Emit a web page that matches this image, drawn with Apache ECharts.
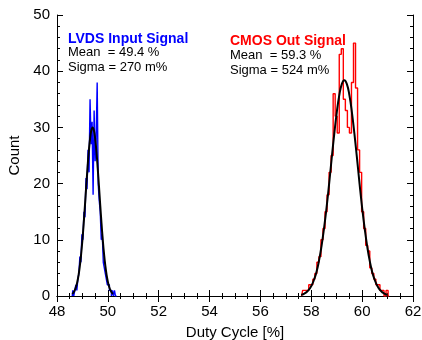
<!DOCTYPE html>
<html>
<head>
<meta charset="utf-8">
<script src="https://cdn.jsdelivr.net/npm/echarts@6/dist/echarts.min.js"></script>
<style>html,body{margin:0;padding:0;background:#fff}#c{width:422px;height:340px}</style>
</head>
<body>
<div id="c"></div>
<script>
// Blue (LVDS input) histogram: bin centres and counts
var blueBins = [48.60,48.64,48.68,48.72,48.76,48.80,48.84,48.88,48.92,48.96,49.00,49.04,49.08,49.12,49.16,49.20,49.24,49.28,49.32,49.36,49.40,49.44,49.48,49.52,49.56,49.60,49.64,49.68,49.72,49.76,49.80,49.84,49.88,49.92,49.96,50.00,50.04,50.08,50.12,50.16,50.20,50.24,50.28,50.32,50.36];
var blueCounts = [0,1,0,1,2,1,3,4,7,6,11,10,15,14,21,19,26,22,35,27,31,18,33,24,28,38,20,17,15,10,11,6,5,4,3,2,2,1,1,0,1,0,1,0,0];
// Red (CMOS out) histogram
var redBins = [57.62,57.70,57.78,57.86,57.94,58.02,58.10,58.18,58.26,58.34,58.42,58.50,58.58,58.66,58.74,58.82,58.90,58.98,59.06,59.14,59.22,59.30,59.38,59.46,59.54,59.62,59.70,59.78,59.86,59.94,60.02,60.10,60.18,60.26,60.34,60.42,60.50,60.58,60.66,60.74,60.82,60.90,60.98,61.06];
var redCounts = [0,1,1,1,2,2,3,4,6,7,10,12,15,18,22,25,36,32,29,43,44,35,33,30,29,38,45,37,26,22,15,12,9,8,5,4,3,2,2,1,1,0,1,0];
// Gaussian fit curves
var blueFitX = [48.60,48.65,48.70,48.75,48.80,48.85,48.90,48.95,49.00,49.05,49.10,49.15,49.20,49.25,49.30,49.35,49.40,49.45,49.50,49.55,49.60,49.65,49.70,49.75,49.80,49.85,49.90,49.95,50.00,50.05,50.10,50.15,50.20];
var blueFitY = [0.37,0.63,1.04,1.65,2.54,3.77,5.4,7.48,10.0,12.95,16.18,19.54,22.8,25.71,28.01,29.49,30.0,29.49,28.01,25.71,22.8,19.54,16.18,12.95,10.0,7.48,5.4,3.77,2.54,1.65,1.04,0.63,0.37];
var redFitX = [57.6,57.7,57.8,57.9,58.0,58.1,58.2,58.3,58.4,58.5,58.6,58.7,58.8,58.9,59.0,59.1,59.2,59.3,59.4,59.5,59.6,59.7,59.8,59.9,60.0,60.1,60.2,60.3,60.4,60.5,60.6,60.7,60.8,60.9,61.0];
var redFitY = [0.2,0.36,0.64,1.08,1.77,2.8,4.2,6.2,8.8,12.0,15.7,19.9,24.4,28.7,32.6,35.7,37.7,38.4,37.7,35.7,32.6,28.7,24.4,19.9,15.7,12.0,8.8,6.2,4.2,2.8,1.77,1.08,0.64,0.36,0.2];
var xTicks = [48,50,52,54,56,58,60,62];
var yTicks = [0,10,20,30,40,50];

function zip(a,b){return a.map(function(v,i){return [v,b[i]];});}

var font = 'Liberation Sans, Arial, Helvetica, sans-serif';
var chart = echarts.init(document.getElementById('c'), null, {renderer:'canvas'});
var axisCommon = {
  axisLine:{show:true, lineStyle:{color:'#000', width:1}},
  splitLine:{show:false}
};
chart.setOption({
  animation:false,
  backgroundColor:'#fff',
  grid:{left:57, right:9, top:15, bottom:44, containLabel:false, outerBoundsMode:'none'},
  xAxis:[
    Object.assign({type:'value', min:48, max:62, interval:2, position:'bottom',
      name:'Duty Cycle [%]', nameLocation:'middle', nameGap:29,
      nameTextStyle:{fontFamily:font, fontSize:15, color:'#000'},
      axisTick:{show:true, inside:true, length:6, lineStyle:{color:'#000'}},
      minorTick:{show:true, splitNumber:4, length:3, lineStyle:{color:'#000'}},
      axisLabel:{fontFamily:font, fontSize:15, color:'#000', margin:8}
    }, axisCommon),
    Object.assign({type:'value', min:48, max:62, interval:2, position:'top',
      axisTick:{show:true, inside:true, length:6, lineStyle:{color:'#000'}},
      minorTick:{show:true, splitNumber:4, length:3, lineStyle:{color:'#000'}},
      axisLabel:{show:false}
    }, axisCommon)
  ],
  yAxis:[
    Object.assign({type:'value', min:0, max:50, interval:10, position:'left',
      name:'Count', nameLocation:'middle', nameGap:35, nameRotate:90,
      nameTextStyle:{fontFamily:font, fontSize:15, color:'#000'},
      axisTick:{show:true, inside:true, length:6, lineStyle:{color:'#000'}},
      minorTick:{show:true, splitNumber:5, length:3, lineStyle:{color:'#000'}},
      axisLabel:{fontFamily:font, fontSize:15, color:'#000', margin:7}
    }, axisCommon),
    Object.assign({type:'value', min:0, max:50, interval:10, position:'right',
      axisTick:{show:true, inside:true, length:6, lineStyle:{color:'#000'}},
      minorTick:{show:true, splitNumber:5, length:3, lineStyle:{color:'#000'}},
      axisLabel:{show:false}
    }, axisCommon)
  ],
  series:[
    {type:'line', step:'middle', data:zip(blueBins, blueCounts), showSymbol:false, symbol:'none',
      lineStyle:{color:'#0000ff', width:1.4}, z:2},
    {type:'line', step:'middle', data:zip(redBins, redCounts), showSymbol:false, symbol:'none',
      lineStyle:{color:'#ff0000', width:1.4}, z:2},
    {type:'line', smooth:true, data:zip(blueFitX, blueFitY), showSymbol:false, symbol:'none',
      lineStyle:{color:'#000', width:2}, z:3},
    {type:'line', smooth:true, data:zip(redFitX, redFitY), showSymbol:false, symbol:'none',
      lineStyle:{color:'#000', width:2}, z:3}
  ],
  graphic:[
    {type:'text', left:68, top:32, style:{text:'LVDS Input Signal', fill:'#0000ff', font:'bold 14px '+font}},
    {type:'text', left:68, top:46, style:{text:'Mean  = 49.4 %', fill:'#000', font:'13px '+font}},
    {type:'text', left:68, top:61, style:{text:'Sigma = 270 m%', fill:'#000', font:'13px '+font}},
    {type:'text', left:230, top:34, style:{text:'CMOS Out Signal', fill:'#ff0000', font:'bold 14px '+font}},
    {type:'text', left:230, top:49, style:{text:'Mean  = 59.3 %', fill:'#000', font:'13px '+font}},
    {type:'text', left:230, top:64, style:{text:'Sigma = 524 m%', fill:'#000', font:'13px '+font}}
  ]
});
</script>
</body>
</html>
